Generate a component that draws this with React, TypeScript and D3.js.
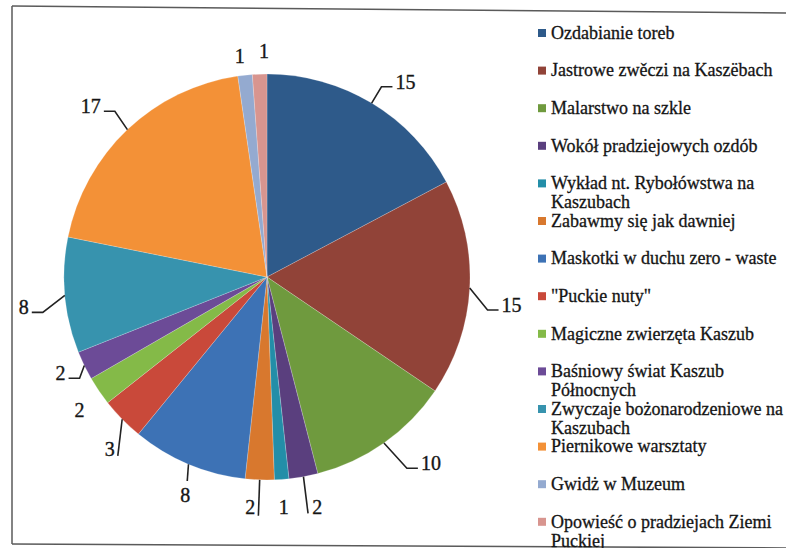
import React from "react";
import * as d3 from "d3";

const categories = [
  "Ozdabianie toreb",
  "Jastrowe zwěczi na Kaszëbach",
  "Malarstwo na szkle",
  "Wokół pradziejowych ozdób",
  "Wykład nt. Rybołówstwa na Kaszubach",
  "Zabawmy się jak dawniej",
  "Maskotki w duchu zero - waste",
  "\"Puckie nuty\"",
  "Magiczne zwierzęta Kaszub",
  "Baśniowy świat Kaszub Północnych",
  "Zwyczaje bożonarodzeniowe na Kaszubach",
  "Piernikowe warsztaty",
  "Gwidż w Muzeum",
  "Opowieść o pradziejach Ziemi Puckiej",
];
const values = [15, 15, 10, 2, 1, 2, 8, 3, 2, 2, 8, 17, 1, 1];
const colors = [
  "#2E5A8A", "#914338", "#6F9A3E", "#5A3F7E", "#238EA8", "#D8782E", "#3D72B5",
  "#C9493A", "#84BA48", "#6C4B97", "#3793AE", "#F39137", "#94AAD0", "#D8958F",
];

// label layout (Excel-like leader placement)
const leaderModes = ["elbow", "elbow", "elbow", "straight", "none", "straight", "straight", "straight", "none", "elbow", "elbow", "elbow", "none", "none"];
const leaderExt = [19, 20, 34, 37, 0, 36, 16, 30, 0, 10, 24, 22, 0, 0];
const leaderShift = [0, 5.4, -1, 0.5, 0, 0, -1.4, -5.7, 0, -2.5, -3.8, 0.9, 0, 0];
const labelGap = [0, 0, 0, 32, 28, 28, 30, 30, 27, 0, 0, 0, 20, 23];
const labelShift = [0, 0, 0, -2, 0, 2.1, -2.2, -3.1, -1.3, 0, 0, 0, -0.8, 1.3];

const W = 786;
const H = 548;
const cx = 267;
const cy = 277;
const R = 203;
const legendX = 538;
const legendY0 = 33;
const legendStep = 37.6;
const legendFont = 18;
const labelFont = 20;
const FONT = "Liberation Serif";

function wrapText(text: string, maxW: number): string[] {
  const canvas = document.createElement("canvas");
  const ctx = canvas.getContext("2d");
  if (!ctx) return [text];
  ctx.font = `${legendFont}px "Liberation Serif"`;
  const words = text.split(" ");
  const lines: string[] = [];
  let cur = "";
  for (const w of words) {
    const test = cur ? cur + " " + w : w;
    if (ctx.measureText(test).width > maxW && cur) {
      lines.push(cur);
      cur = w;
    } else cur = test;
  }
  if (cur) lines.push(cur);
  return lines;
}

const rad = (deg: number) => (deg * Math.PI) / 180;
const polar = (r: number, a: number): [number, number] => [cx + r * Math.sin(a), cy - r * Math.cos(a)];

export default function App() {
  const pie = d3.pie<number>().sort(null).value((d) => d).startAngle(0).endAngle(2 * Math.PI);
  const arcs = pie(values);
  const arcGen = d3.arc<d3.PieArcDatum<number>>().innerRadius(0).outerRadius(R);

  const labels = arcs.map((a, i) => {
    const mid = (a.startAngle + a.endAngle) / 2;
    const mode = leaderModes[i];
    const E = polar(R, mid);
    if (mode === "elbow") {
      const B = polar(R + leaderExt[i], mid + rad(leaderShift[i]));
      const side = Math.sin(mid) >= 0 ? 1 : -1;
      const Hx = B[0] + side * 11;
      const path = d3.line()([E, B, [Hx, B[1]]]);
      return {
        path,
        x: Hx + side * 3,
        y: B[1] - 5,
        anchor: side > 0 ? "start" : "end",
        text: String(values[i]),
      };
    }
    const L = polar(R + labelGap[i], mid + rad(labelShift[i]));
    let path: string | null = null;
    if (mode === "straight") {
      const B = polar(R + leaderExt[i], mid + rad(leaderShift[i]));
      path = d3.line()([E, B]);
    }
    return { path, x: L[0], y: L[1], anchor: "middle", text: String(values[i]) };
  });

  const legendLines = categories.map((c) => wrapText(c, 240));
  const textStyle = { fontFamily: FONT };

  return (
    <svg
      width={W}
      height={H}
      style={{ position: "absolute", left: 0, top: 0, background: "#fff", fontFamily: FONT }}
    >
      <rect x={0} y={0} width={W} height={H} fill="#fff" />
      {/* frame */}
      <g stroke="#5a5a5a" strokeWidth={1.5} fill="none">
        <line x1={12} y1={6} x2={790} y2={13} />
        <line x1={12} y1={6} x2={12} y2={544} />
        <line x1={12} y1={544} x2={790} y2={548} />
      </g>
      {/* pie */}
      <g transform={`translate(${cx},${cy})`}>
        {arcs.map((a, i) => (
          <path key={i} d={arcGen(a) || ""} fill={colors[i]} stroke="#fff" strokeWidth={0.4} strokeOpacity={0.5} />
        ))}
      </g>
      {/* labels */}
      <g>
        {labels.map((l, i) => (
          <g key={i}>
            {l.path && <path d={l.path} fill="none" stroke="#222" strokeWidth={1.6} />}
            <text
              x={l.x}
              y={l.y}
              dy="0.35em"
              textAnchor={l.anchor as any}
              fontSize={labelFont}
              fill="#151515"
              stroke="#151515"
              strokeWidth={0.35}
              style={textStyle}
            >
              {l.text}
            </text>
          </g>
        ))}
      </g>
      {/* legend */}
      <g>
        {legendLines.map((lines, i) => {
          const yc = legendY0 + i * legendStep;
          return (
            <g key={i}>
              <rect x={legendX} y={yc - 4} width={8} height={8} fill={colors[i]} />
              {lines.map((ln, j) => (
                <text
                  key={j}
                  x={legendX + 13}
                  y={yc + j * 19}
                  dy="0.32em"
                  fontSize={legendFont}
                  fill="#151515"
                  stroke="#151515"
                  strokeWidth={0.3}
                  style={textStyle}
                >
                  {ln}
                </text>
              ))}
            </g>
          );
        })}
      </g>
    </svg>
  );
}
